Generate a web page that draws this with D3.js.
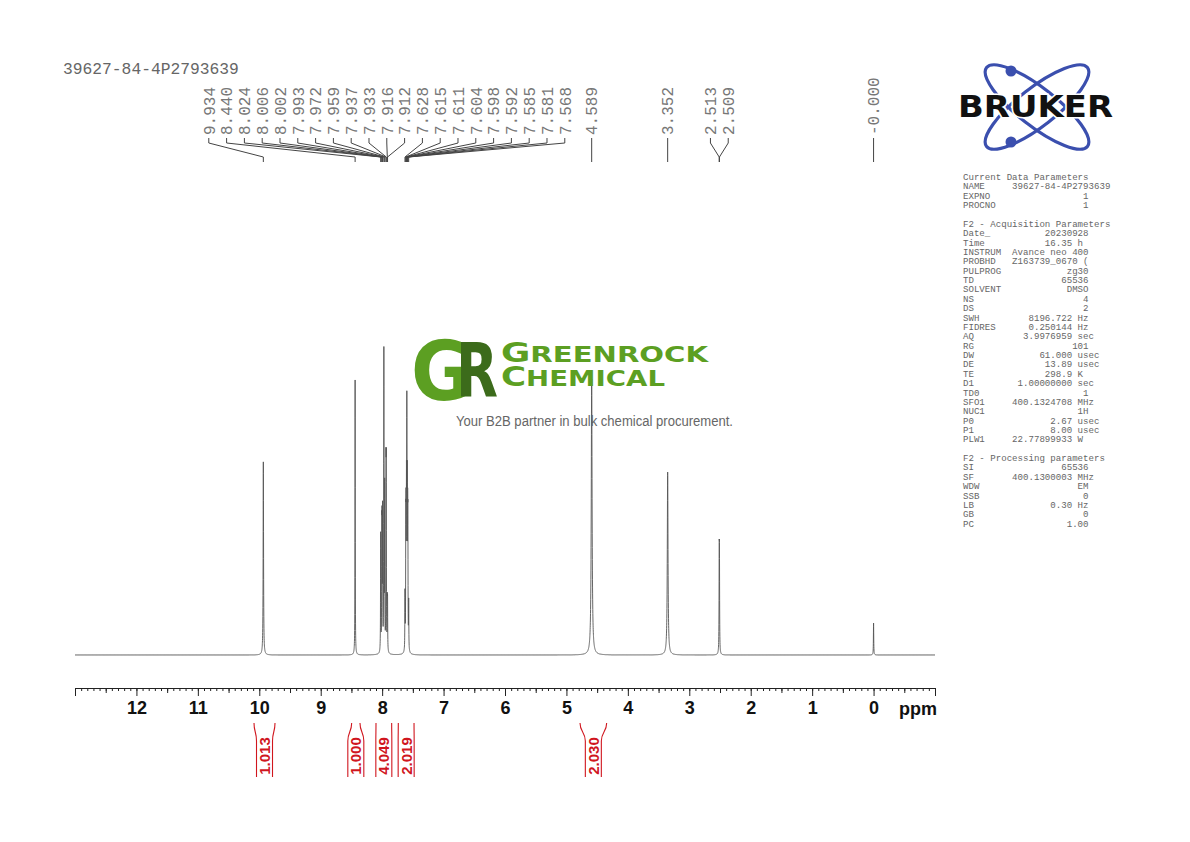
<!DOCTYPE html>
<html><head><meta charset="utf-8">
<script src="https://cdn.jsdelivr.net/npm/d3@7"></script>
<style>body{margin:0;background:#fff} svg{display:block} .pre{white-space:pre}</style>
</head><body>
<svg id="c" width="1190" height="842"></svg>
<script>
// ---------------- DATA ----------------
const sampleName = "39627-84-4P2793639";
const peakPpm    = [9.934, 8.440, 8.024, 8.006, 8.002, 7.993, 7.972, 7.959, 7.937, 7.933, 7.916, 7.912,
                    7.628, 7.615, 7.611, 7.604, 7.598, 7.592, 7.585, 7.581, 7.568, 4.589, 3.352, 2.513, 2.509, 0.000];
const peakHeight = [62.3, 88.7, 38, 34, 34, 44, 96, 52, 51, 51, 14, 14,
                    18, 35, 35, 44, 68, 44, 35, 35, 15, 89, 59, 26.7, 26.7, 10.3];
const peakHalfWidth = [0.004, 0.0025, 0.0025, 0.0025, 0.0025, 0.0025, 0.0025, 0.0025, 0.0025, 0.0025, 0.0025, 0.0025,
                    0.0025, 0.0025, 0.0025, 0.0025, 0.0025, 0.0025, 0.0025, 0.0025, 0.0025, 0.008, 0.007, 0.003, 0.003, 0.003];
const peakLabels = ["9.934","8.440","8.024","8.006","8.002","7.993","7.972","7.959","7.937","7.933","7.916","7.912",
                    "7.628","7.615","7.611","7.604","7.598","7.592","7.585","7.581","7.568","4.589","3.352","2.513","2.509","-0.000"];
const axisTicks = [12, 11, 10, 9, 8, 7, 6, 5, 4, 3, 2, 1, 0];
const integralFrom  = [10.086, 8.496, 8.100, 7.737, 4.779];
const integralTo    = [9.744, 8.361, 7.845, 7.481, 4.345];
const integralValue = ["1.013", "1.000", "4.049", "2.019", "2.030"];
const paramSections = ["Current Data Parameters", "F2 - Acquisition Parameters", "F2 - Processing parameters"];
const paramCurrent = [["NAME", sampleName, ""], ["EXPNO", "1", ""], ["PROCNO", "1", ""]];
const paramAcq = [["Date_", "20230928", ""], ["Time", "16.35", "h"], ["INSTRUM", "Avance neo 400", ""],
  ["PROBHD", "Z163739_0670 (", ""], ["PULPROG", "zg30", ""], ["TD", "65536", ""], ["SOLVENT", "DMSO", ""],
  ["NS", "4", ""], ["DS", "2", ""], ["SWH", "8196.722", "Hz"], ["FIDRES", "0.250144", "Hz"],
  ["AQ", "3.9976959", "sec"], ["RG", "101", ""], ["DW", "61.000", "usec"], ["DE", "13.89", "usec"],
  ["TE", "298.9", "K"], ["D1", "1.00000000", "sec"], ["TD0", "1", ""], ["SFO1", "400.1324708", "MHz"],
  ["NUC1", "1H", ""], ["P0", "2.67", "usec"], ["P1", "8.00", "usec"], ["PLW1", "22.77899933", "W"]];
const paramProc = [["SI", "65536", ""], ["SF", "400.1300003", "MHz"], ["WDW", "EM", ""], ["SSB", "0", ""],
  ["LB", "0.30", "Hz"], ["GB", "0", ""], ["PC", "1.00", ""]];

// ---------------- CHART ----------------
const svg = d3.select("#c");
const x = d3.scaleLinear().domain([13, -1]).range([75, 935]);
const y = d3.scaleLinear().domain([0, 100]).range([655, 345]);

// spectrum from the peak list (Lorentzian line shapes)
const grid = d3.range(13, -1.0005, -0.001).concat(peakPpm);
grid.sort((a, b) => b - a);
const spec = grid.map(p => {
  let s = 0;
  for (let i = 0; i < peakPpm.length; i++) {
    const d = (p - peakPpm[i]) / peakHalfWidth[i];
    s += peakHeight[i] / (1 + d * d);
  }
  return [p, s];
});
svg.append("path").datum(spec)
  .attr("d", d3.line().x(d => x(d[0])).y(d => y(d[1])))
  .attr("fill", "none").attr("stroke", "#555").attr("stroke-width", 0.9);

// axis
const axisY = 688;
const font2 = "'Liberation Sans Narrow','Liberation Sans',Arial,sans-serif";
svg.append("g").attr("transform", `translate(0,${axisY})`)
  .call(d3.axisBottom(x).tickValues(d3.range(-10, 131).map(v => v / 10)).tickSize(3).tickSizeOuter(8).tickFormat(""));
const gHalf = svg.append("g").attr("transform", `translate(0,${axisY})`)
  .call(d3.axisBottom(x).tickValues(d3.range(-1, 13).map(v => v + 0.5)).tickSize(5).tickFormat(""));
gHalf.select(".domain").remove();
const gMajor = svg.append("g").attr("transform", `translate(0,${axisY})`)
  .call(d3.axisBottom(x).tickValues(axisTicks).tickSize(8).tickPadding(5).tickFormat(d3.format("d")));
gMajor.select(".domain").remove();
svg.selectAll(".tick line, .domain").attr("stroke", "#222").attr("stroke-width", 1);
gMajor.selectAll(".tick text").attr("font-family", font2)
  .attr("font-weight", "bold").attr("font-size", 18).attr("fill", "#111");
svg.append("text").attr("x", 899).attr("y", axisY + 27).text("ppm")
  .attr("font-family", font2).attr("font-weight", "bold").attr("font-size", 18).attr("fill", "#111");

// peak labels with leader lines (cluster-spread layout)
const peakX = peakPpm.map(p => x(p));
const labX = peakX.slice();
const gap = 17.8;
let clusters = peakX.map((v, i) => ({ start: i, n: 1, c: v }));
let changed = true;
while (changed) {
  changed = false;
  for (let k = 0; k < clusters.length - 1; k++) {
    const a = clusters[k], b = clusters[k + 1];
    const aEnd = a.c + (a.n - 1) * gap / 2, bStart = b.c - (b.n - 1) * gap / 2;
    if (bStart - aEnd < gap) {
      const n = a.n + b.n;
      const c = (a.c * a.n + b.c * b.n) / n;
      clusters.splice(k, 2, { start: a.start, n, c });
      changed = true; break;
    }
  }
}
clusters.forEach(cl => { for (let j = 0; j < cl.n; j++) labX[cl.start + j] = cl.c + (j - (cl.n - 1) / 2) * gap; });

const gl = svg.append("g");
peakLabels.forEach((t, i) => {
  gl.append("path")
    .attr("d", `M${labX[i]},138 L${labX[i]},143 L${peakX[i]},157 L${peakX[i]},162`)
    .attr("fill", "none").attr("stroke", "#444").attr("stroke-width", 1);
  gl.append("text").attr("transform", `translate(${labX[i]},135) rotate(-90)`)
    .attr("dy", "0.36em").text(t)
    .attr("font-family", "'Liberation Mono','DejaVu Sans Mono',monospace").attr("font-size", 16).attr("fill", "#777");
});

// title
svg.append("text").attr("x", 63).attr("y", 73.5).text(sampleName)
  .attr("font-family", "'Liberation Mono','DejaVu Sans Mono',monospace").attr("font-size", 16.3).attr("fill", "#666");

// integrals
const red = "#d0161e";
integralValue.forEach((v, i) => {
  const xa = x(integralFrom[i]), xb = x(integralTo[i]);
  const cx = (xa + xb) / 2;
  const g = svg.append("g");
  [[xa, cx - 8], [xb, cx + 8]].forEach(([o, inn]) => {
    g.append("path").attr("d", `M${o},723 C${o},732 ${inn},732 ${inn},741 L${inn},777`)
      .attr("fill", "none").attr("stroke", red).attr("stroke-width", 1.1);
  });
  g.append("text").attr("transform", `translate(${cx},756) rotate(-90)`)
    .attr("text-anchor", "middle").attr("dy", "0.36em").text(v)
    .attr("font-family", "'Liberation Sans',Arial,sans-serif").attr("font-weight", "bold")
    .attr("font-size", 15).attr("fill", red);
});

// parameter panel
const px0 = 963, lh = 9.37, py0 = 180;
function fmt(r) {
  const [n, v, u] = r;
  if (u) return n + " ".repeat(Math.max(1, 20 - n.length - v.length)) + v + " " + u;
  const pad = 23 - n.length - v.length;
  return pad >= 2 ? n + " ".repeat(pad) + v : n.padEnd(9) + v;
}
const lines = [paramSections[0], ...paramCurrent.map(fmt), "", paramSections[1], ...paramAcq.map(fmt), "", paramSections[2], ...paramProc.map(fmt)];
const gp = svg.append("g");
lines.forEach((l, i) => {
  if (!l) return;
  gp.append("text").attr("class", "pre").attr("x", px0).attr("y", py0 + i * lh).text(l)
    .attr("font-family", "'Liberation Mono','DejaVu Sans Mono',monospace").attr("font-size", 9.1).attr("fill", "#666");
});

// Bruker logo
const blue = "#3b4fae";
const gb = svg.append("g").attr("transform", "translate(1037,107)");
[38, -38].forEach(a => gb.append("ellipse").attr("rx", 64).attr("ry", 19).attr("transform", `rotate(${a})`)
  .attr("fill", "none").attr("stroke", blue).attr("stroke-width", 3.2));
gb.append("circle").attr("cx", -26).attr("cy", -36).attr("r", 5.5).attr("fill", blue);
gb.append("circle").attr("cx", -26).attr("cy", 35).attr("r", 5.5).attr("fill", blue);
gb.append("text").attr("x", -79).attr("y", 10).text("BRUKER")
  .attr("font-family", "'DejaVu Sans',sans-serif").attr("font-weight", "bold").attr("font-size", 30)
  .attr("textLength", 155).attr("lengthAdjust", "spacingAndGlyphs")
  .attr("fill", "#111").attr("stroke", "#fff").attr("stroke-width", 3).attr("paint-order", "stroke");

// GreenRock watermark
const green = "#5c9f22", dark = "#3c6b1b";
const gg = svg.append("g");
gg.append("text").attr("x", 411).attr("y", 400).text("G")
  .attr("font-family", "'DejaVu Sans',sans-serif").attr("font-weight", "bold").attr("font-size", 82)
  .attr("textLength", 61).attr("lengthAdjust", "spacingAndGlyphs").attr("fill", green);
gg.append("text").attr("x", 456).attr("y", 397).text("R")
  .attr("font-family", "'DejaVu Sans',sans-serif").attr("font-weight", "bold").attr("font-size", 74)
  .attr("textLength", 42).attr("lengthAdjust", "spacingAndGlyphs").attr("fill", dark);
const t1 = gg.append("text").attr("x", 501).attr("y", 362)
  .attr("font-family", "'DejaVu Sans',sans-serif").attr("font-weight", "bold").attr("fill", green)
  .attr("textLength", 207).attr("lengthAdjust", "spacingAndGlyphs");
t1.append("tspan").attr("font-size", 27).text("G");
t1.append("tspan").attr("font-size", 22).text("REENROCK");
const t2 = gg.append("text").attr("x", 501).attr("y", 385.5)
  .attr("font-family", "'DejaVu Sans',sans-serif").attr("font-weight", "bold").attr("fill", green)
  .attr("textLength", 164).attr("lengthAdjust", "spacingAndGlyphs");
t2.append("tspan").attr("font-size", 26).text("C");
t2.append("tspan").attr("font-size", 21).text("HEMICAL");
gg.append("text").attr("x", 456).attr("y", 426).text("Your B2B partner in bulk chemical procurement.")
  .attr("font-family", "'Liberation Sans',Arial,sans-serif").attr("font-size", 14).attr("fill", "#666")
  .attr("textLength", 277).attr("lengthAdjust", "spacingAndGlyphs");
</script>
</body></html>
